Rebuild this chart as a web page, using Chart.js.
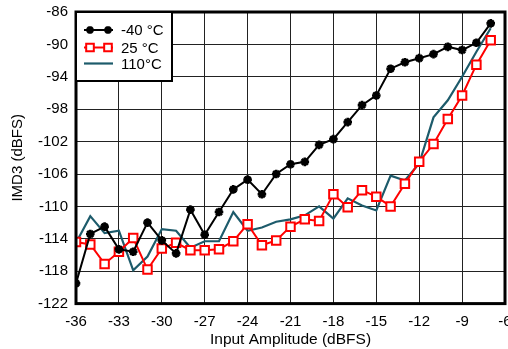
<!DOCTYPE html>
<html>
<head>
<meta charset="utf-8">
<title>IMD3 vs Input Amplitude</title>
<script src="https://cdn.jsdelivr.net/npm/chart.js@4.4.1/dist/chart.umd.min.js"></script>
<style>
  html, body { margin: 0; padding: 0; background: #fff; }
  #wrap { width: 508px; height: 349px; position: relative; }
</style>
</head>
<body>
<div id="wrap"><canvas id="imd3-chart"></canvas></div>
<script>
// Input amplitude (dBFS), 1 dB steps
const inputAmplitude = [-36, -35, -34, -33, -32, -31, -30, -29, -28, -27, -26, -25, -24, -23, -22,
  -21, -20, -19, -18, -17, -16, -15, -14, -13, -12, -11, -10, -9, -8, -7];

// IMD3 (dBFS) per temperature
const imdMinus40 = [-119.5, -113.4, -112.5, -115.3, -115.6, -112.0, -114.2, -115.8, -110.4, -113.5,
  -110.7, -107.9, -106.7, -108.5, -106.0, -104.8, -104.5, -102.4, -101.7, -99.6,
  -97.5, -96.3, -93.0, -92.2, -91.7, -91.2, -90.3, -90.7, -89.8, -87.4];
const imd25 = [-114.4, -114.7, -117.1, -115.6, -113.9, -117.8, -115.2, -114.5, -115.4, -115.4,
  -115.3, -114.3, -112.2, -114.8, -114.2, -112.5, -111.6, -111.8, -108.5, -110.1,
  -108.0, -108.8, -110.0, -107.2, -104.5, -102.3, -99.2, -96.3, -92.5, -89.5];
const imd110 = [-114.5, -111.2, -113.3, -113.0, -117.9, -116.2, -112.8, -113.0, -115.1, -114.3,
  -114.3, -110.7, -113.0, -112.6, -111.9, -111.6, -111.1, -110.0, -111.5, -109.0,
  -109.9, -110.5, -106.2, -106.8, -104.7, -99.0, -96.9, -94.0, -90.9, -88.0];

const seriesLabels = ["-40 \u00B0C", "25 \u00B0C", "110\u00B0C"];

// Tick labels
const xTicks = [-36, -33, -30, -27, -24, -21, -18, -15, -12, -9, -6];
const yTicks = [-122, -118, -114, -110, -106, -102, -98, -94, -90, -86];

const toPoints = (ys) => inputAmplitude.map((x, i) => ({ x: x, y: ys[i] }));

Chart.defaults.font.family = '"Liberation Sans", Arial, Helvetica, sans-serif';
Chart.defaults.font.size = 15;
Chart.defaults.color = "#000";

// Thick frame round the plot area
const framePlugin = {
  id: "frame",
  afterDatasetsDraw(chart) {
    const { ctx, chartArea: a } = chart;
    ctx.save();
    ctx.strokeStyle = "#000";
    ctx.lineWidth = 3;
    ctx.strokeRect(a.left, a.top, a.right - a.left, a.bottom - a.top);
    ctx.restore();
  }
};

// Boxed legend in the top left corner of the plot
const boxLegendPlugin = {
  id: "boxLegend",
  afterDraw(chart) {
    const { ctx, chartArea: a } = chart;
    const x0 = a.left, y0 = a.top;
    const w = 96, h = 69;
    ctx.save();
    ctx.fillStyle = "#fff";
    ctx.fillRect(x0, y0, w, h);
    ctx.strokeStyle = "#000";
    ctx.lineWidth = 2;
    ctx.strokeRect(x0, y0, w, h);

    const rows = [18, 35.5, 51.5];
    chart.data.datasets.forEach((ds, i) => {
      const y = y0 + rows[i];
      ctx.strokeStyle = ds.borderColor;
      ctx.lineWidth = ds.borderWidth;
      ctx.beginPath();
      ctx.moveTo(x0 + 8, y);
      ctx.lineTo(x0 + 37, y);
      ctx.stroke();
      if (ds.pointRadius > 0) {
        [x0 + 14, x0 + 32].forEach((px) => {
          ctx.fillStyle = ds.pointBackgroundColor;
          ctx.strokeStyle = ds.borderColor;
          ctx.lineWidth = ds.pointBorderWidth;
          Chart.helpers.drawPoint(ctx, {
            pointStyle: ds.pointStyle,
            radius: ds.pointRadius * 0.9,
            rotation: 0,
            borderWidth: ds.pointBorderWidth
          }, px, y);
        });
      }
      ctx.fillStyle = "#000";
      ctx.font = '15px "Liberation Sans", Arial, sans-serif';
      ctx.textBaseline = "middle";
      ctx.fillText(ds.label, x0 + 45, y + 1);
    });
    ctx.restore();
  }
};

const ctx = document.getElementById("imd3-chart").getContext("2d");
const imdChart = new Chart(ctx, {
  type: "line",
  data: {
    datasets: [
      {
        label: seriesLabels[0],
        data: toPoints(imdMinus40),
        borderColor: "#000",
        borderWidth: 2,
        pointStyle: "star",
        pointRadius: 4.3,
        pointBorderWidth: 2.6,
        pointBackgroundColor: "#000",
        pointBorderColor: "#000"
      },
      {
        label: seriesLabels[1],
        data: toPoints(imd25),
        borderColor: "#ff0000",
        borderWidth: 2,
        pointStyle: "rect",
        pointRadius: 6,
        pointBorderWidth: 2,
        pointBackgroundColor: "#fff",
        pointBorderColor: "#ff0000"
      },
      {
        label: seriesLabels[2],
        data: toPoints(imd110),
        borderColor: "#1d5b6b",
        borderWidth: 2.2,
        pointRadius: 0,
        pointBorderWidth: 0,
        pointBackgroundColor: "#1d5b6b"
      }
    ]
  },
  options: {
    responsive: true,
    maintainAspectRatio: false,
    animation: false,
    events: [],
    layout: { autoPadding: false, padding: { top: 12, right: 3, left: 0, bottom: 0 } },
    plugins: {
      legend: { display: false },
      tooltip: { enabled: false }
    },
    scales: {
      x: {
        type: "linear",
        min: -36,
        max: -6,
        afterBuildTicks: (scale) => { scale.ticks = xTicks.map((v) => ({ value: v })); },
        afterFit: (scale) => { scale.height = 45.4; scale.paddingLeft = 0; scale.paddingRight = 0; },
        grid: { color: "#222", lineWidth: 1, drawTicks: false },
        border: { display: false },
        ticks: { padding: 9, maxRotation: 0, autoSkip: false, font: { size: 15 } },
        title: { display: true, text: "Input Amplitude (dBFS)", font: { size: 15.5 }, padding: { top: 0, bottom: 0 } }
      },
      y: {
        type: "linear",
        min: -122,
        max: -86,
        afterBuildTicks: (scale) => { scale.ticks = yTicks.map((v) => ({ value: v })); },
        afterFit: (scale) => { scale.width = 76; scale.paddingTop = 0; scale.paddingBottom = 0; },
        grid: { color: "#222", lineWidth: 1, drawTicks: false },
        border: { display: false },
        ticks: { padding: 8, autoSkip: false, font: { size: 15 } },
        title: { display: true, text: "IMD3 (dBFS)", font: { size: 15 }, padding: { top: 9, bottom: 0 } }
      }
    }
  },
  plugins: [framePlugin, boxLegendPlugin]
});
</script>
</body>
</html>
